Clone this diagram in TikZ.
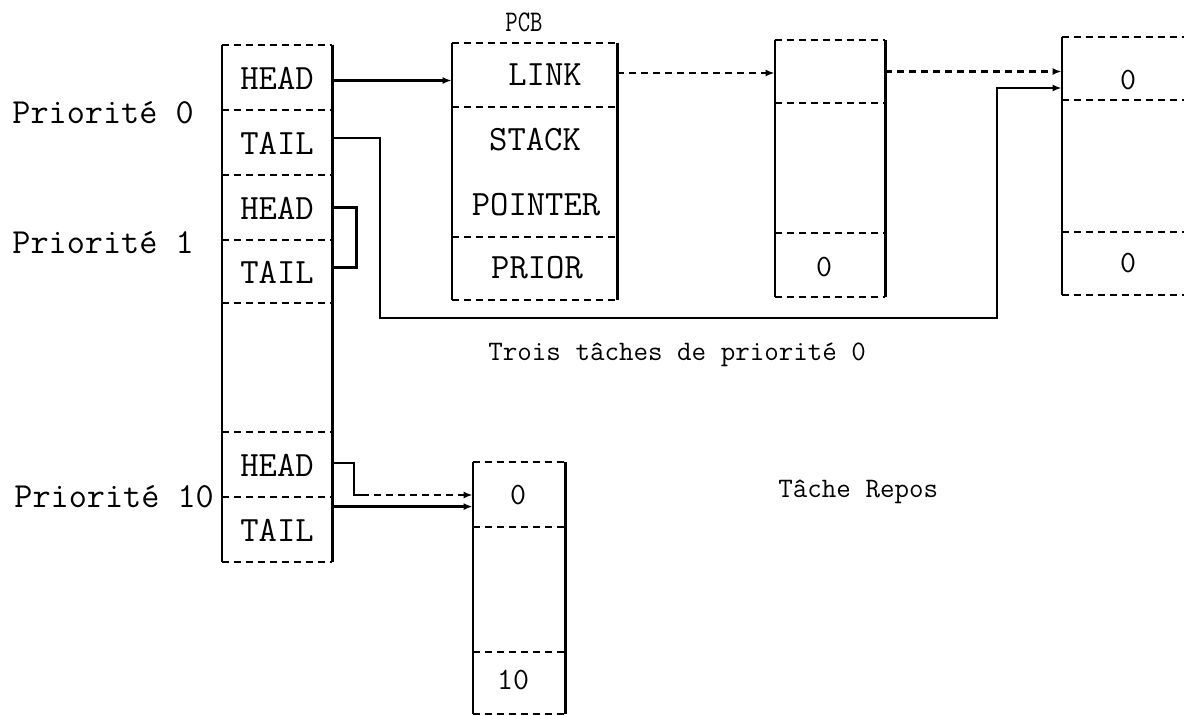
\documentclass[tikz,border=0pt]{standalone}
\usepackage{fontspec}
\usetikzlibrary{fit,arrows.meta}
\newcommand\drawrec[1]{%
  \draw[side] (#1.north west)--(#1.south west) (#1.north east)--(#1.south east);
  \draw[sep] (#1.north west)--(#1.north east) (#1.south west)--(#1.south east);}
\newcommand\twfont[1]{\ttfamily\fontsize{#1}{#1}\selectfont\addfontfeature{FakeBold=0.6}}
\newcommand\twboldfont[1]{\ttfamily\fontsize{#1}{#1}\selectfont\addfontfeature{FakeBold=2.5}}
\begin{document}
\begin{tikzpicture}[x=0.5pt,y=-0.5pt,
  cell/.style={rectangle,inner sep=0pt,draw=none},
  side/.style={line width=1.1pt},
  sep/.style={line width=1pt,dash pattern=on 3.5pt off 2.5pt},
  conn/.style={line width=1.1pt},
  dconn/.style={line width=1.1pt,dash pattern=on 3.5pt off 2.5pt},
  arr/.style={-{Latex[length=4.5pt,width=3.5pt]}},
  bigt/.style={inner sep=0pt,font=\twfont{17.8}},
  labt/.style={inner sep=0pt,font=\twfont{17.6}},
  smallt/.style={inner sep=0pt,font=\twfont{14.1}},
  numt/.style={inner sep=0pt,font=\twfont{15.5}},
  pcbt/.style={inner sep=0pt,xscale=0.8,font=\twboldfont{15}}]
\useasboundingbox (0,0) rectangle (1184,716);

% cells and boxes
\node[cell,fit={(222,45)(332,562)}] (col) {};
\node[cell,fit={(222,45)(332,110)}] (h0) {};
\node[cell,fit={(222,110)(332,175)}] (t0) {};
\node[cell,fit={(222,175)(332,240)}] (h1) {};
\node[cell,fit={(222,240)(332,303)}] (t1) {};
\node[cell,fit={(222,432)(332,497)}] (h10) {};
\node[cell,fit={(222,497)(332,562)}] (t10) {};
\node[cell,fit={(452,43)(617,300)}] (pcb) {};
\node[cell,fit={(452,43)(617,107)}] (link) {};
\node[cell,fit={(775,40)(885,297)}] (mbox) {};
\node[cell,fit={(775,40)(885,103)}] (mtop) {};
\node[cell,fit={(1062,37)(1184,295)}] (rbox) {};
\node[cell,fit={(473,462)(565,714)}] (bbox) {};

\drawrec{col}
\drawrec{pcb}
\drawrec{mbox}
\drawrec{bbox}
\draw[side] (rbox.north west)--(rbox.south west);
\draw[sep] (rbox.north west)--(rbox.north east) (rbox.south west)--(rbox.south east);

\foreach \y in {110,175,240,303,432,497} \draw[sep] (222,\y)--(332,\y);
\foreach \y in {107,237} \draw[sep] (452,\y)--(617,\y);
\foreach \y in {103,233} \draw[sep] (775,\y)--(885,\y);
\foreach \y in {100,232} \draw[sep] (1062,\y)--(1184,\y);
\foreach \y in {527,652} \draw[sep] (473,\y)--(565,\y);

% texts
\node[bigt] (th0) at (277,78) {HEAD};
\node[bigt] (tt0) at (277,143) {TAIL};
\node[bigt] (th1) at (277,208) {HEAD};
\node[bigt] (tt1) at (277,272) {TAIL};
\node[bigt] (th10) at (277,465) {HEAD};
\node[bigt] (tt10) at (277,530) {TAIL};
\node[labt,anchor=west] (p0) at (12,113) {Priorité 0};
\node[labt,anchor=west] (p1) at (12,243) {Priorité 1};
\node[labt,anchor=west] (p10) at (14,497) {Priorité 10};
\node[pcbt] (pcblab) at (524,22) {PCB};
\node[bigt] (tlink) at (545,75) {LINK};
\node[bigt] (tstack) at (535,140) {STACK};
\node[bigt] (tptr) at (536,205) {POINTER};
\node[bigt] (tprior) at (537,268) {PRIOR};
\node[numt] (m0) at (824,267) {0};
\node[numt] (r0a) at (1128,80) {0};
\node[numt] (r0b) at (1128,263) {0};
\node[numt] (b0) at (518,495) {0};
\node[numt] (b10) at (513,680) {10};
\node[smallt,anchor=west] (trois) at (488,355) {Trois tâches de priorité 0};
\node[smallt,anchor=west] (repos) at (778,492) {Tâche Repos};

% connectors
\draw[conn,arr] ([yshift=-1.5pt]h0.east) -- ([yshift=-1.5pt]h0.east -| pcb.west);
\draw[dconn,arr] ([yshift=1pt]link.east) -- ([yshift=1pt]link.east -| mbox.west);
\draw[dconn,arr] (mtop.east) -- (mtop.east -| rbox.west);
\coordinate (c1) at (380,318);
\coordinate (c2) at (997,88);
\draw[conn,arr] ([yshift=2.25pt]t0.east) -| (c1) -| (c2) -- (c2 -| rbox.west);
\draw[conn] (h1.east) -- ++(24,0) |- ([yshift=2pt]t1.east);
\coordinate (k1) at (354,495);
\draw[conn] ([yshift=0.75pt]h10.east) -| (k1) -- ++(8,0) coordinate (k2);
\draw[dconn,arr] (k2) -- (k2 -| bbox.west);
\draw[conn,arr] ([yshift=-5pt]t10.north east) -- ([yshift=-5pt]t10.north east -| bbox.west);
\end{tikzpicture}
\end{document}
